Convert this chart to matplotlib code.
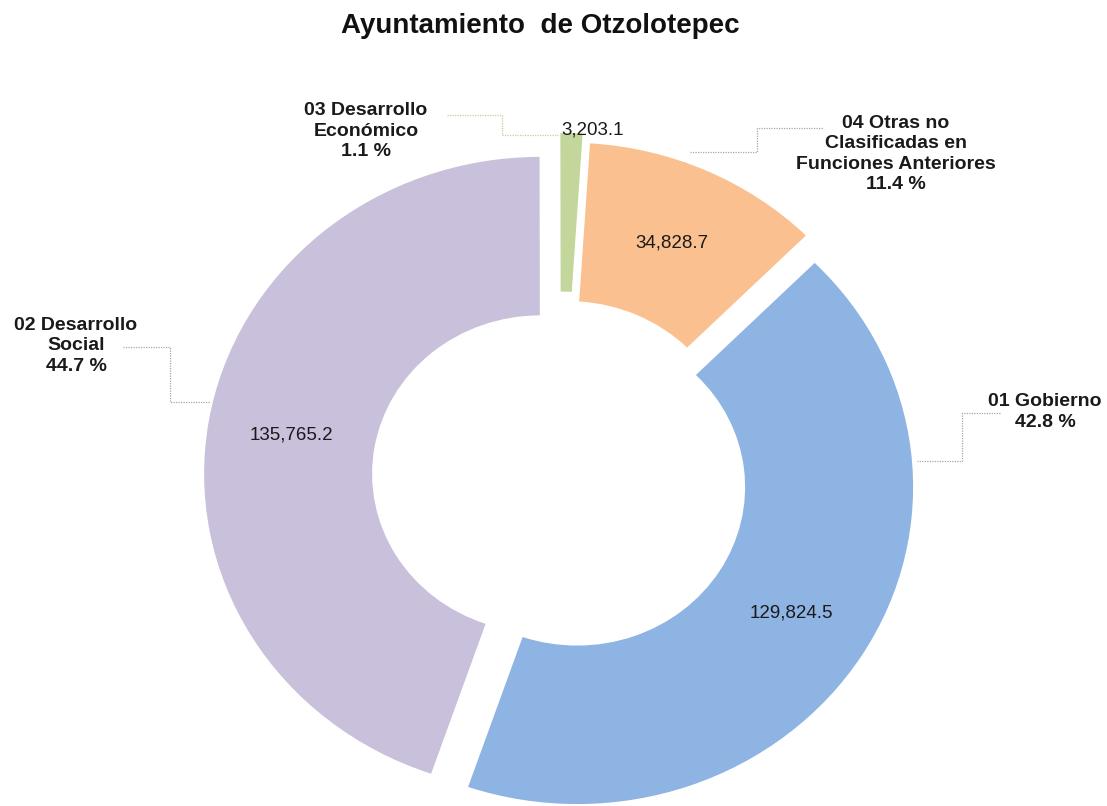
import math
import matplotlib.pyplot as plt

# data, in category order
categories = ['01 Gobierno', '02 Desarrollo\nSocial', '03 Desarrollo\nEconómico',
              '04 Otras no\nClasificadas en\nFunciones Anteriores']
values     = [129824.5, 135765.2, 3203.1, 34828.7]
pct_text   = ['42.8 %', '44.7 %', '1.1 %', '11.4 %']
colors     = ['#8eb4e3', '#c9c0dc', '#c3d69b', '#fac090']
explode    = [0.06, 0.06, 0.085, 0.06]

W, H = 1107, 806
CX, CY = 560, 477      # pie centre in pixels
SX, SY = 336, 317      # pixels per data unit (chart is slightly stretched)

plt.rcParams['font.family'] = ['Liberation Sans', 'DejaVu Sans']


def fx(px, py):
    return px / W, 1 - py / H


def fmt(v):
    return '{:,.1f}'.format(v)


fig = plt.figure(figsize=(W / 100, H / 100), dpi=100)
ax = fig.add_axes([0, 0, 1, 1])

wedges, _ = ax.pie(values, colors=colors, explode=explode, startangle=45,
                   counterclock=False, radius=1,
                   wedgeprops=dict(width=0.5, linewidth=0))

ax.set_aspect('auto')
ax.set_xlim(-CX / SX, (W - CX) / SX)
ax.set_ylim(-(H - CY) / SY, CY / SY)
ax.axis('off')

# value labels in the middle of the ring
for w, v in zip(wedges, values):
    if v < 10000:
        continue
    th = math.radians((w.theta1 + w.theta2) / 2)
    x = w.center[0] + 0.75 * math.cos(th)
    y = w.center[1] + 0.75 * math.sin(th)
    ax.text(x, y, fmt(v), ha='center', va='center', fontsize=13.5, color='#1a1a1a')

# small slice: label outside
fig.text(*fx(593, 130), fmt(values[2]), ha='center', va='center',
         fontsize=13.5, color='#1a1a1a')

# category labels
label_pos = [(1045, 412), (76, 346), (366, 131), (896, 154)]
for cat, pct, (px, py) in zip(categories, pct_text, label_pos):
    fig.text(*fx(px, py), cat + '\n' + pct, ha='center', va='center',
             multialignment='center', fontsize=14, fontweight='bold',
             linespacing=1.28, color='#1a1a1a')

# leader lines
leaders = [
    ([1000, 962, 962, 917], [413, 413, 461, 461], '#a8a8a8'),
    ([123, 170, 170, 210], [347, 347, 402, 402], '#a8a8a8'),
    ([447, 502, 502, 558], [115, 115, 135, 135], '#c4cf9f'),
    ([690, 757, 757, 823], [152, 152, 128, 128], '#a8a8a8'),
]
for xs, ys, c in leaders:
    fig.add_artist(plt.Line2D([x / W for x in xs], [1 - y / H for y in ys],
                              color=c, lw=0.9, ls=(0, (1, 1))))

fig.text(*fx(540, 26), 'Ayuntamiento  de Otzolotepec', ha='center',
         va='center', fontsize=20, fontweight='bold', color='#111111')

plt.savefig('out.png', dpi=100)
plt.close()
